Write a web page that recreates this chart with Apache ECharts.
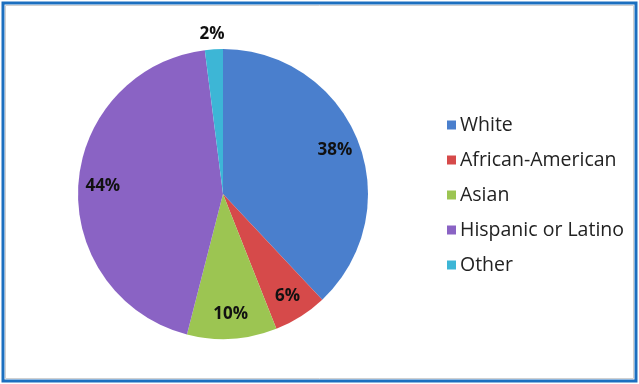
<!DOCTYPE html>
<html>
<head>
<meta charset="utf-8">
<script src="https://cdn.jsdelivr.net/npm/echarts@6/dist/echarts.min.js"></script>
<style>
html,body{margin:0;padding:0;background:#fff;}
#c{width:639px;height:384px;}
</style>
</head>
<body>
<div id="c"></div>
<script>
const categories = ['White', 'African-American', 'Asian', 'Hispanic or Latino', 'Other'];
const values = [38, 6, 10, 44, 2];
const colors = ['#4a7fcd', '#d64a4a', '#9cc552', '#8a63c4', '#3db6d6'];

const chart = echarts.init(document.getElementById('c'));
const R = 145;
const center = [223, 194];
const labelFont = { fontFamily: 'Open Sans, Liberation Sans, sans-serif', fontWeight: 'bold', fontSize: 17, color: '#111' };

const mainData = categories.map((n, i) => ({
  name: n, value: values[i],
  itemStyle: { color: colors[i] },
  label: i === 4 ? { show: true, offset: [16, -11] } : { show: false }
}));
const overlayData = categories.map((n, i) => ({
  name: n, value: values[i],
  label: { show: i !== 4 }
}));

chart.setOption({
  animation: false,
  backgroundColor: '#fff',
  graphic: [
    { type: 'rect', shape: { x: 3, y: 3, width: 633, height: 378 }, style: { fill: 'none', stroke: '#1c6fbf', lineWidth: 3 } },
    { type: 'rect', shape: { x: 5.5, y: 5.5, width: 628, height: 373 }, style: { fill: 'none', stroke: '#d0d0d0', lineWidth: 1 } }
  ],
  legend: {
    orient: 'vertical',
    left: 442,
    top: 110,
    itemWidth: 9,
    itemHeight: 9,
    itemGap: 15,
    icon: 'rect',
    data: categories,
    textStyle: { fontFamily: 'Open Sans, Liberation Sans, sans-serif', fontSize: 19.5, color: '#222', lineHeight: 20, padding: [0, 0, 0, -1] }
  },
  series: [
    {
      type: 'pie',
      center: center,
      radius: [0, R],
      startAngle: 90,
      clockwise: true,
      avoidLabelOverlap: false,
      label: Object.assign({ position: 'outside', formatter: '{c}%' }, labelFont),
      labelLine: { show: false, length: 4, length2: 0 },
      emphasis: { disabled: true },
      data: mainData
    },
    {
      type: 'pie',
      center: center,
      radius: [R * 0.62, R],
      startAngle: 90,
      clockwise: true,
      silent: true,
      legendHoverLink: false,
      itemStyle: { color: 'rgba(0,0,0,0)' },
      label: Object.assign({ position: 'inside', formatter: '{c}%' }, labelFont),
      labelLine: { show: false },
      emphasis: { disabled: true },
      data: overlayData
    }
  ]
});
</script>
</body>
</html>
